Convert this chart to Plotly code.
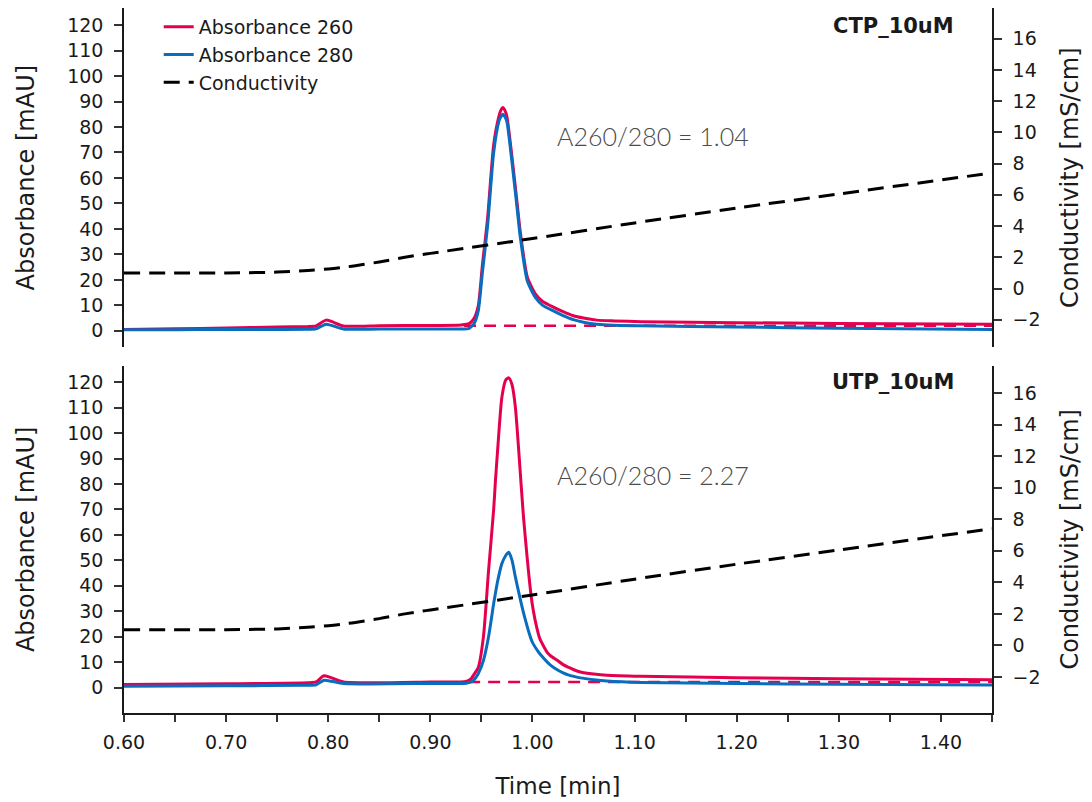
import plotly.graph_objects as go

# ---------------- data ----------------
# CTP_10uM (top panel)
t_ctp = [0.600, 0.650, 0.700, 0.750, 0.780, 0.788, 0.798, 0.815, 0.850, 0.900, 0.930, 0.938,
         0.943, 0.947, 0.951, 0.956, 0.962, 0.967, 0.969, 0.971, 0.973, 0.975, 0.980, 0.985,
         0.988, 0.995, 1.003, 1.010, 1.018, 1.030, 1.040, 1.050, 1.063, 1.080, 1.106, 1.200,
         1.300, 1.450]
a260_ctp = [0.5, 0.8, 1.1, 1.5, 1.7, 1.9, 4.2, 1.9, 2.0, 2.1, 2.3, 2.8,
            5.0, 10.0, 26.0, 44.0, 73.0, 84.0, 86.5, 87.6, 86.5, 84.0, 68.0, 50.0,
            39.0, 21.0, 14.4, 11.5, 9.8, 7.5, 5.9, 5.0, 4.2, 3.9, 3.6, 3.2,
            2.9, 2.6]
a280_ctp = [0.4, 0.45, 0.5, 0.55, 0.6, 0.8, 2.6, 0.7, 0.7, 0.7, 0.7, 1.0,
            3.0, 8.0, 23.0, 41.0, 70.0, 82.0, 84.0, 85.0, 84.0, 82.0, 66.0, 48.0,
            37.0, 19.5, 13.0, 10.0, 8.3, 6.0, 4.4, 3.4, 2.6, 2.2, 2.0, 1.5,
            1.0, 0.5]

# UTP_10uM (bottom panel)
t_utp = [0.600, 0.700, 0.780, 0.788, 0.796, 0.815, 0.900, 0.935, 0.940, 0.9425, 0.947, 0.952,
         0.957, 0.962, 0.9637, 0.966, 0.970, 0.974, 0.9768, 0.980, 0.9833, 0.9915, 0.9997,
         1.0058, 1.0078, 1.015, 1.0176, 1.0242, 1.030, 1.035, 1.0405, 1.047, 1.060, 1.073,
         1.106, 1.200, 1.300, 1.450]
a260_utp = [1.2, 1.5, 1.9, 2.2, 4.6, 2.2, 2.2, 2.4, 3.5, 5.0, 8.0, 20.0,
            46.0, 70.0, 81.0, 94.0, 114.0, 121.0, 121.7, 119.0, 110.0, 65.7, 33.0,
            21.0, 18.6, 13.5, 12.5, 10.7, 9.0, 8.0, 7.0, 6.1, 5.3, 4.8,
            4.4, 3.9, 3.5, 3.1]
a280_utp = [0.5, 0.7, 0.9, 1.1, 2.9, 1.6, 1.6, 1.7, 2.2, 2.9, 5.5, 10.7,
            20.0, 33.0, 37.0, 42.0, 48.7, 52.0, 53.2, 50.0, 43.4, 29.0, 18.0,
            14.0, 13.0, 9.8, 8.8, 7.0, 5.8, 5.0, 4.4, 3.8, 3.1, 2.6,
            2.0, 1.6, 1.3, 1.0]

# baselines (A260 integration baseline)
base_t_ctp = [0.933, 1.450]
base_ctp = [2.0, 2.0]
base_t_utp = [0.937, 1.450]
base_utp = [2.2, 2.2]

# conductivity (same gradient for both runs)
cond_t = [0.60, 0.70, 0.75, 0.78, 0.80, 0.82, 0.85, 0.875, 0.90, 1.00, 1.10, 1.20, 1.30, 1.45]
cond = [1.0, 1.0, 1.05, 1.15, 1.25, 1.4, 1.7, 2.0, 2.25, 3.2, 4.2, 5.15, 6.05, 7.4]

ratio_labels = ["A260/280 = 1.04", "A260/280 = 2.27"]
sample_labels = ["CTP_10uM", "UTP_10uM"]

x_major = [0.60, 0.70, 0.80, 0.90, 1.00, 1.10, 1.20, 1.30, 1.40]
x_ticks = [0.60, 0.65, 0.70, 0.75, 0.80, 0.85, 0.90, 0.95, 1.00, 1.05, 1.10, 1.15,
           1.20, 1.25, 1.30, 1.35, 1.40, 1.45]
abs_ticks = [0, 10, 20, 30, 40, 50, 60, 70, 80, 90, 100, 110, 120]
cond_ticks = [-2, 0, 2, 4, 6, 8, 10, 12, 14, 16]

# ---------------- styling ----------------
RED = "#E4004F"
BLUE = "#0A6CBD"
FONT = "DejaVu Sans"
TXT = "#1a1a1a"

fig = go.Figure()

panels = [
    (t_ctp, a260_ctp, a280_ctp, base_t_ctp, base_ctp, "x", "y", "y2", True),
    (t_utp, a260_utp, a280_utp, base_t_utp, base_utp, "x2", "y3", "y4", False),
]
for (t, a260, a280, bt, bv, xa, ya, yc, show) in panels:
    fig.add_trace(go.Scatter(x=bt, y=bv, mode="lines", xaxis=xa, yaxis=ya,
                             line=dict(color=RED, width=2.5, dash="12px,8px"),
                             showlegend=False, hoverinfo="skip"))
    fig.add_trace(go.Scatter(x=t, y=a260, mode="lines", xaxis=xa, yaxis=ya,
                             name="Absorbance 260", legendgroup="a260", showlegend=show,
                             line=dict(color=RED, width=3, shape="spline", smoothing=0.6)))
    fig.add_trace(go.Scatter(x=t, y=a280, mode="lines", xaxis=xa, yaxis=ya,
                             name="Absorbance 280", legendgroup="a280", showlegend=show,
                             line=dict(color=BLUE, width=3, shape="spline", smoothing=0.6)))
    fig.add_trace(go.Scatter(x=cond_t, y=cond, mode="lines", xaxis=xa, yaxis=yc,
                             name="Conductivity", legendgroup="cond", showlegend=show,
                             line=dict(color="black", width=3, dash="16px,9px",
                                       shape="spline", smoothing=0.8)))

axis_common = dict(showline=True, linecolor="#1a1a1a", linewidth=1.5, ticks="outside",
                   ticklen=8, tickwidth=1.5, tickcolor="#333333", showgrid=False,
                   zeroline=False, tickfont=dict(family=FONT, size=19, color=TXT),
                   ticklabelstandoff=7)

x_text = [f"{v:.2f}" if any(abs(v - m) < 1e-9 for m in x_major) else "" for v in x_ticks]

YT = dict(family=FONT, size=24, color=TXT)

# the page adds an 8px body margin, so the figure is sized/margined to compensate
fig.update_layout(
    width=1084, height=794,
    margin=dict(l=116, r=100, t=0, b=89, autoexpand=False),
    paper_bgcolor="white", plot_bgcolor="white",
    font=dict(family=FONT, color=TXT),
    xaxis=dict(domain=[0, 1], anchor="y", range=[0.6, 1.45], visible=False),
    xaxis2=dict(domain=[0, 1], anchor="y3", range=[0.6, 1.45],
                tickvals=x_ticks, ticktext=x_text,
                title=dict(text="Time [min]", font=dict(family=FONT, size=23, color=TXT),
                           standoff=26),
                **{**axis_common, "ticklen": 7, "ticklabelstandoff": 4}),
    yaxis=dict(domain=[0.5186, 1], anchor="x", range=[-6.5, 126.7], tickvals=abs_ticks,
               title=dict(text="Absorbance [mAU]", font=YT, standoff=26),
               **axis_common),
    yaxis2=dict(anchor="x", overlaying="y", side="right", range=[-3.77, 17.96],
                tickvals=cond_ticks,
                title=dict(text="Conductivity [mS/cm]", font=YT, standoff=22),
                **axis_common),
    yaxis3=dict(domain=[0, 0.4927], anchor="x2", range=[-10, 126.5], tickvals=abs_ticks,
                title=dict(text="Absorbance [mAU]", font=YT, standoff=26),
                **axis_common),
    yaxis4=dict(anchor="x2", overlaying="y3", side="right", range=[-4.28, 17.73],
                tickvals=cond_ticks,
                title=dict(text="Conductivity [mS/cm]", font=YT, standoff=22),
                **axis_common),
    legend=dict(x=0.04, y=1.0, xanchor="left", yanchor="top", bgcolor="rgba(0,0,0,0)",
                font=dict(family=FONT, size=19, color=TXT), itemwidth=30,
                tracegroupgap=0),
    showlegend=True,
)

# annotations
for lab, xa, ya, yv in [(ratio_labels[0], "x", "y", 76.5), (ratio_labels[1], "x2", "y3", 83.4)]:
    fig.add_annotation(x=1.0225, y=yv, xref=xa, yref=ya, text=lab, showarrow=False,
                       xanchor="left", yanchor="middle",
                       font=dict(family="Lato", size=25, color="#4a4a4a", weight=300))
for lab, xa, ya, yv in [(sample_labels[0], "x", "y", 119.6), (sample_labels[1], "x2", "y3", 120.0)]:
    fig.add_annotation(x=1.4147, y=yv, xref=xa, yref=ya, text=lab, showarrow=False,
                       xanchor="right", yanchor="middle",
                       font=dict(family=FONT, size=21, color=TXT, weight="bold"))

fig.write_html("out.html")
